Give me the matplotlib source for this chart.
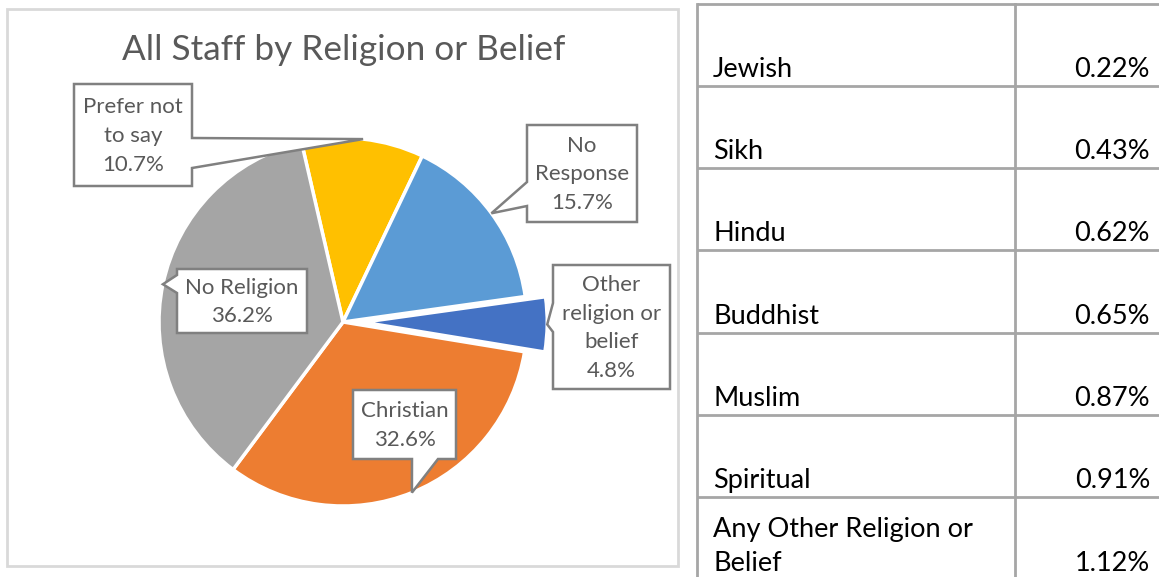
import matplotlib.pyplot as plt
from matplotlib.patches import Polygon, Rectangle
import numpy as np

plt.rcParams['font.family'] = ['Lato', 'DejaVu Sans']

# pie data (clockwise from the top)
labels = ['Prefer not\nto say', 'No\nResponse', 'Other\nreligion or\nbelief', 'Christian', 'No Religion']
shares = [10.7, 15.7, 4.8, 32.6, 36.2]
colors = ['#FFC000', '#5B9BD5', '#4472C4', '#ED7D31', '#A5A5A5']
explode = [0, 0, 0.11, 0, 0]

# breakdown of the small groups
table_names = ['Jewish', 'Sikh', 'Hindu', 'Buddhist', 'Muslim', 'Spiritual',
               'Any Other Religion or\nBelief']
table_values = [0.22, 0.43, 0.62, 0.65, 0.87, 0.91, 1.12]

W, H = 1159, 577
fig = plt.figure(figsize=(W / 100, H / 100), dpi=100)

# pie axes, radius 184 px around (343, 322)
R = 184
cx, cy = 343, 322
span = 1.25
side = 2 * span * R
axp = fig.add_axes([(cx - side / 2) / W, (H - cy - side / 2) / H, side / W, side / H])
wedges, _ = axp.pie(shares, colors=colors, explode=explode, startangle=103,
                    counterclock=False, radius=1,
                    wedgeprops=dict(edgecolor='white', linewidth=2.5))
axp.set_xlim(-span, span)
axp.set_ylim(-span, span)
axp.set_aspect('auto')
axp.axis('off')

# overlay in pixel units for frame, callouts and table
ov = fig.add_axes([0, 0, 1, 1], zorder=3)
ov.set_xlim(0, W)
ov.set_ylim(H, 0)
ov.axis('off')
ov.patch.set_alpha(0)

# chart frame
ov.add_patch(Rectangle((7, 9), 671, 557, fill=False, edgecolor='#D9D9D9', lw=2))
ov.text(344, 50, 'All Staff by Religion or Belief', ha='center', va='center',
        fontsize=25.3, color='#595959')

# callout boxes: x0, y0, x1, y1, pointer side, pointer base
boxes = [
    (74, 84, 192, 186, 'right', (138, 168)),
    (527, 125, 637, 222, 'left', (182, 206)),
    (553, 265, 670, 389, 'left', (303, 332)),
    (353, 390, 456, 459, 'bottom', (412, 438)),
    (177, 269, 307, 333, 'left', (275, 293)),
]


def wedge_tip(w):
    mid = np.deg2rad((w.theta1 + w.theta2) / 2)
    x = w.center[0] + w.r * np.cos(mid)
    y = w.center[1] + w.r * np.sin(mid)
    disp = axp.transData.transform((x, y))
    return ov.transData.inverted().transform(disp)


for w, lab, val, (x0, y0, x1, y1, s, (a, b)) in zip(wedges, labels, shares, boxes):
    tip = tuple(wedge_tip(w))
    if s == 'right':
        pts = [(x0, y0), (x1, y0), (x1, a), tip, (x1, b), (x1, y1), (x0, y1)]
    elif s == 'left':
        pts = [(x0, y0), (x1, y0), (x1, y1), (x0, y1), (x0, b), tip, (x0, a)]
    else:
        pts = [(x0, y0), (x1, y0), (x1, y1), (b, y1), tip, (a, y1), (x0, y1)]
    ov.add_patch(Polygon(pts, closed=True, facecolor='white',
                         edgecolor='#808080', lw=1.8, joinstyle='miter'))
    ov.text((x0 + x1) / 2, (y0 + y1) / 2 + 1, f'{lab}\n{val:.1f}%', ha='center',
            va='center', fontsize=16, color='#595959', linespacing=1.55)

# table on the right
tx0, tx1, tx2 = 697, 1015, 1162
row_y = [4, 86, 168, 250, 333, 415, 497, 580]
for y in row_y:
    ov.plot([tx0, tx2], [y, y], color='#A6A6A6', lw=2, solid_capstyle='butt')
for x in (tx0, tx1, tx2):
    ov.plot([x, x], [row_y[0], row_y[-1]], color='#A6A6A6', lw=2)

for i, (name, v) in enumerate(zip(table_names, table_values)):
    base = row_y[i + 1] - 9
    ov.text(713, base, name, ha='left', va='baseline', fontsize=19.5,
            color='black', linespacing=1.45)
    ov.text(1150, base, f'{v:.2f}%', ha='right', va='baseline', fontsize=19.5,
            color='black')

fig.savefig('out.png', dpi=100)
